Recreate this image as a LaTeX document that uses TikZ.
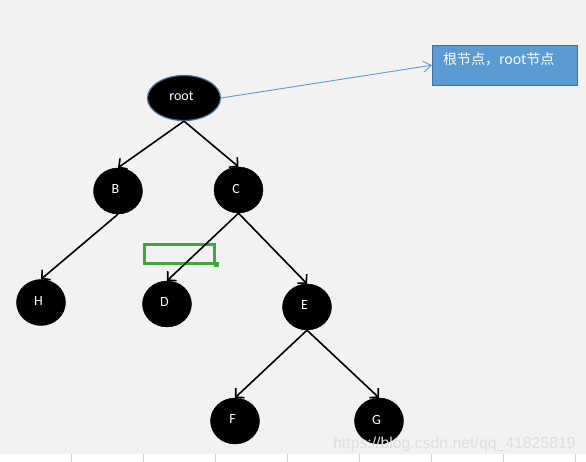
\documentclass[tikz,border=0pt]{standalone}
\usepackage{fontspec}
\setmainfont{Carlito}
\newfontfamily\cjkfont{Noto Sans CJK SC}
\newfontfamily\urlfont{Liberation Sans}
\usetikzlibrary{shapes.geometric,arrows.meta,positioning}
\definecolor{bggray}{RGB}{242,242,242}
\definecolor{tickgray}{RGB}{208,208,208}
\definecolor{edgeblue}{RGB}{65,113,156}
\definecolor{noteblue}{RGB}{91,155,213}
\definecolor{markgreen}{RGB}{61,168,61}
\definecolor{wmgray}{RGB}{222,222,222}
\tikzset{
  tnode/.style   ={ellipse, draw=black, fill=black, text=white, inner sep=0pt,
                   minimum width=49pt, minimum height=46pt, text depth=3pt,
                   execute at end node=\hspace*{5pt},
                   font=\fontsize{14}{16}\selectfont},
  rootnode/.style={tnode, draw=edgeblue, line width=1.2pt,
                   minimum width=73pt, minimum height=45pt},
  note/.style    ={rectangle, draw=edgeblue, fill=noteblue, text=white, anchor=north west,
                   inner xsep=11pt, inner ysep=0pt, text width=123pt, align=left,
                   text height=19pt, text depth=21pt, font=\cjkfont\fontsize{14}{16}\selectfont},
  selbox/.style  ={rectangle, draw=markgreen, line width=3pt, inner sep=0pt,
                   minimum width=70pt, minimum height=18.5pt},
  handle/.style  ={rectangle, fill=markgreen, inner sep=0pt, minimum size=5pt},
  flow/.style    ={-{Straight Barb[length=6pt,width=13pt]}, line width=1.6pt, draw=black},
  callout/.style ={-{Straight Barb[length=8pt,width=11pt]}, line width=0.9pt, draw=noteblue},
  wmark/.style   ={text=wmgray, anchor=base west, inner sep=0pt,
                   font=\urlfont\fontsize{15.8}{18}\selectfont}
}
\begin{document}
\begin{tikzpicture}[x=1pt, y=-1pt]
\useasboundingbox (0,0) rectangle (586,462);
\fill[bggray] (0,0) rectangle (586,454);
\foreach \tx in {71.5,143.5,215.5,287.5,359.5,431.5,503.5,575.5}
  \draw[tickgray, line width=1pt] (\tx,454) -- (\tx,462);

\node[rootnode] (root) at (184,98) {root};
\node[note] (note) at (432,45) {根节点，root节点};
\node[tnode] (B) at (118,191) {B};
\node[tnode] (C) at (238.5,190) {C};
\node[tnode] (H) at (41,302.5) {H};
\node[tnode] (D) at (167,304) {D};
\node[tnode] (E) at (307,307) {E};
\node[tnode] (F) at (235,421) {F};
\node[tnode] (G) at (379,421) {G};
\node[selbox] (mark) at (179.5,254) {};
\node[handle] (grip) at (mark.south east) {};
\node[wmark] (url) at (333,448) {https://blog.csdn.net/qq\_41825819};

\draw[callout] (root.east) -- (note.west);
\draw[flow] (root.south) -- (B.north);
\draw[flow] (root.south) -- (C.north);
\draw[flow] (B.south) -- (H.north);
\draw[flow] (C.south) -- (D.north);
\draw[flow] (C.south) -- (E.north);
\draw[flow] (E.south) -- (F.north);
\draw[flow] (E.south) -- (G.north);
\end{tikzpicture}
\end{document}
